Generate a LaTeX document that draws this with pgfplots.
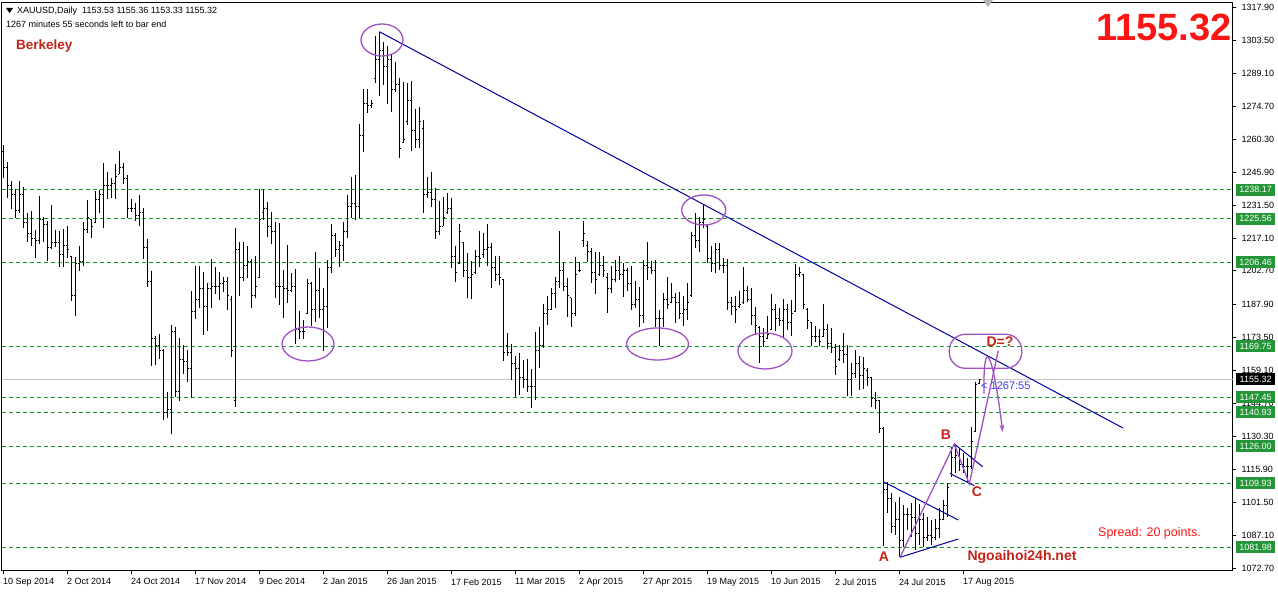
\documentclass[border=0pt]{standalone}
\usepackage{pgfplots}
\pgfplotsset{compat=1.18}
\usepackage{pgfplotstable}
\usepackage{fontspec}
\setmainfont{Liberation Sans}
\usetikzlibrary{arrows.meta}

\definecolor{lvl}{RGB}{20,150,40}
\definecolor{tagbg}{RGB}{36,150,56}
\definecolor{trend}{RGB}{0,0,160}
\definecolor{anno}{RGB}{160,80,195}
\definecolor{lbl}{RGB}{195,35,25}
\definecolor{bigred}{RGB}{255,20,20}
\definecolor{cdown}{RGB}{60,60,230}

% open / close ticks of an OHLC bar
\pgfdeclareplotmark{otick}{\pgfpathmoveto{\pgfqpoint{-1.5pt}{0pt}}\pgfpathlineto{\pgfqpoint{0pt}{0pt}}\pgfusepathqstroke}
\pgfdeclareplotmark{ctick}{\pgfpathmoveto{\pgfqpoint{0pt}{0pt}}\pgfpathlineto{\pgfqpoint{1.5pt}{0pt}}\pgfusepathqstroke}

% daily bars: index, high, low, open, close
\pgfplotstableread{
i h l o c
0 1257.7 1243.5 1255 1248
1 1250.2 1234.7 1248 1240
2 1242.0 1229.8 1240 1236
3 1238.4 1225.7 1236 1229
4 1242.0 1227.9 1229 1236
5 1239.2 1221.3 1236 1224
6 1228.2 1215.5 1224 1219
7 1228.9 1213.7 1219 1217
8 1220.6 1208.2 1217 1216
9 1235.5 1214.3 1216 1225
10 1226.1 1215.5 1225 1223
11 1224.5 1206.8 1223 1213
12 1231.5 1212.1 1213 1215
13 1220.6 1213.3 1215 1215
14 1220.2 1204.6 1215 1210
15 1220.9 1204.6 1210 1214
16 1222.3 1208.5 1214 1212
17 1209.2 1189.7 1209 1192
18 1208.9 1183.1 1192 1206
19 1213.6 1202.8 1206 1207
20 1224.2 1204.9 1207 1221
21 1233.7 1219.1 1221 1226
22 1225.3 1217.2 1225 1222
23 1237.6 1223.8 1224 1234
24 1238.1 1228.2 1234 1236
25 1250.0 1221.6 1236 1240
26 1245.7 1234.1 1240 1240
27 1243.5 1234.4 1240 1241
28 1249.3 1234.3 1241 1244
29 1255.1 1244.9 1245 1248
30 1250.0 1240.5 1248 1243
31 1244.6 1226.0 1243 1230
32 1234.1 1228.3 1230 1230
33 1232.5 1224.7 1230 1227
34 1235.9 1222.3 1227 1228
35 1230.1 1208.1 1228 1213
36 1216.7 1195.8 1213 1198
37 1202.8 1160.9 1198 1173
38 1174.3 1161.6 1173 1170
39 1175.1 1164.1 1170 1168
40 1168.6 1137.5 1168 1141
41 1149.6 1138.3 1141 1142
42 1179.1 1131.4 1142 1176
43 1178.3 1147.4 1176 1150
44 1173.2 1146.0 1150 1164
45 1170.3 1157.6 1164 1163
46 1168.1 1153.9 1163 1160
47 1193.9 1147.0 1160 1185
48 1204.9 1181.5 1185 1190
49 1204.9 1186.3 1190 1195
50 1202.4 1174.7 1195 1187
51 1197.6 1176.6 1187 1195
52 1207.9 1186.3 1195 1196
53 1204.4 1192.6 1196 1196
54 1202.4 1190.0 1196 1197
55 1199.8 1193.6 1197 1198
56 1199.8 1185.6 1198 1192
57 1191.9 1165.2 1190 1168
58 1221.3 1143.1 1146 1212
59 1215.2 1191.9 1212 1200
60 1215.2 1198.4 1200 1205
61 1213.6 1199.5 1205 1207
62 1207.8 1186.4 1207 1192
63 1209.2 1191.0 1192 1196
64 1238.5 1199.5 1200 1225
65 1238.5 1225.0 1228 1230
66 1232.7 1217.7 1230 1222
67 1228.3 1214.3 1222 1220
68 1224.2 1190.7 1220 1196
69 1223.5 1187.8 1196 1196
70 1203.1 1182.3 1196 1195
71 1214.0 1188.8 1195 1194
72 1201.7 1193.6 1194 1196
73 1203.4 1170.6 1196 1177
74 1185.2 1172.8 1177 1176
75 1181.3 1173.0 1176 1176
76 1199.0 1183.7 1184 1197
77 1198.0 1178.6 1197 1186
78 1210.8 1180.5 1186 1194
79 1203.8 1182.0 1194 1186
80 1195.1 1167.7 1186 1187
81 1207.5 1177.9 1187 1204
82 1223.1 1201.7 1204 1218
83 1219.1 1208.9 1218 1212
84 1215.8 1204.6 1212 1214
85 1224.2 1206.8 1214 1220
86 1235.9 1216.9 1220 1231
87 1243.9 1225.7 1231 1232
88 1244.6 1225.0 1232 1231
89 1266.9 1225.7 1231 1262
90 1282.1 1254.8 1262 1276
91 1282.1 1271.6 1276 1275
92 1277.4 1273.8 1275 1276
93 1305.4 1284.7 1287 1295
94 1307.3 1279.3 1295 1299
95 1302.9 1284.0 1299 1292
96 1301.0 1275.7 1292 1295
97 1297.4 1272.3 1295 1282
98 1294.2 1281.1 1282 1284
99 1286.9 1251.9 1284 1256
100 1285.4 1258.5 1259 1260
101 1284.7 1266.5 1268 1277
102 1285.7 1255.3 1277 1264
103 1273.3 1256.6 1264 1260
104 1274.5 1256.3 1260 1268
105 1268.7 1228.2 1265 1236
106 1243.9 1234.4 1236 1237
107 1246.1 1230.8 1237 1234
108 1238.8 1216.5 1234 1220
109 1233.4 1218.4 1220 1222
110 1235.2 1222.1 1222 1226
111 1236.9 1227.4 1228 1230
112 1234.7 1203.8 1230 1209
113 1213.6 1197.7 1209 1202
114 1223.2 1205.6 1206 1220
115 1215.5 1199.8 1215 1203
116 1210.4 1190.7 1203 1200
117 1206.8 1190.3 1200 1201
118 1211.9 1201.2 1202 1209
119 1220.2 1204.3 1209 1208
120 1219.4 1208.2 1210 1212
121 1223.2 1204.9 1212 1213
122 1215.0 1195.3 1213 1204
123 1209.2 1198.3 1204 1201
124 1209.2 1196.5 1201 1200
125 1199.0 1163.3 1199 1167
126 1175.4 1165.5 1170 1167
127 1170.6 1155.0 1167 1162
128 1165.5 1147.7 1162 1160
129 1166.9 1148.4 1160 1156
130 1163.7 1151.3 1156 1155
131 1164.2 1149.9 1155 1152
132 1159.8 1142.6 1152 1152
133 1176.1 1146.2 1152 1168
134 1178.3 1160.1 1168 1170
135 1188.2 1168.8 1170 1184
136 1191.7 1179.0 1184 1186
137 1195.3 1185.6 1186 1193
138 1199.9 1186.3 1193 1198
139 1220.1 1195.3 1198 1203
140 1206.7 1194.0 1203 1196
141 1199.4 1182.4 1196 1192
142 1191.0 1178.3 1191 1184
143 1208.9 1183.0 1184 1201
144 1206.7 1202.3 1203 1203
145 1224.5 1213.3 1216 1219
146 1215.7 1206.7 1214 1211
147 1212.5 1197.2 1211 1202
148 1211.1 1192.4 1202 1199
149 1211.1 1200.4 1201 1205
150 1209.2 1200.1 1205 1203
151 1201.6 1184.1 1200 1195
152 1204.8 1192.9 1195 1199
153 1207.4 1198.0 1199 1203
154 1209.3 1198.7 1203 1201
155 1206.0 1191.4 1201 1203
156 1203.8 1193.9 1203 1197
157 1204.8 1185.6 1197 1188
158 1198.3 1186.3 1188 1190
159 1195.8 1178.3 1190 1183
160 1207.4 1179.7 1183 1205
161 1215.4 1198.7 1205 1204
162 1207.0 1201.2 1204 1203
163 1207.4 1178.3 1203 1182
164 1185.6 1169.8 1182 1182
165 1192.9 1178.3 1182 1190
166 1199.9 1185.9 1190 1188
167 1197.5 1188.5 1189 1191
168 1192.9 1179.7 1191 1189
169 1193.6 1181.5 1189 1184
170 1191.7 1178.6 1184 1186
171 1197.3 1181.2 1186 1189
172 1219.8 1191.4 1192 1218
173 1227.8 1212.5 1218 1216
174 1226.4 1211.1 1216 1224
175 1231.5 1221.6 1224 1225
176 1223.0 1206.3 1222 1208
177 1213.6 1202.3 1208 1206
178 1214.7 1201.9 1206 1212
179 1214.7 1203.1 1212 1205
180 1208.2 1201.9 1205 1205
181 1207.7 1185.6 1205 1189
182 1191.1 1183.4 1189 1187
183 1191.9 1180.1 1187 1186
184 1194.1 1186.4 1187 1188
185 1204.3 1188.3 1189 1194
186 1196.1 1189.3 1194 1190
187 1195.1 1179.1 1190 1183
188 1186.8 1175.2 1183 1179
189 1178.7 1162.6 1178 1174
190 1177.6 1169.3 1174 1172
191 1183.0 1172.8 1173 1175
192 1192.6 1176.9 1177 1186
193 1188.3 1176.2 1186 1182
194 1186.4 1178.4 1182 1181
195 1190.5 1173.6 1181 1186
196 1188.3 1176.9 1186 1180
197 1190.0 1174.3 1180 1184
198 1205.8 1184.5 1185 1201
199 1204.3 1199.9 1201 1202
200 1201.4 1185.9 1201 1188
201 1186.4 1177.2 1186 1181
202 1180.3 1169.9 1180 1174
203 1178.4 1171.4 1174 1174
204 1177.2 1169.9 1174 1172
205 1188.1 1173.6 1174 1177
206 1179.5 1168.5 1177 1171
207 1177.9 1166.7 1171 1169
208 1170.8 1157.2 1169 1161
209 1170.3 1163.1 1164 1168
210 1175.5 1162.6 1168 1166
211 1170.1 1147.8 1166 1155
212 1162.3 1147.8 1155 1158
213 1168.2 1155.8 1158 1162
214 1165.3 1150.7 1162 1157
215 1164.9 1150.9 1157 1160
216 1160.1 1152.4 1159 1156
217 1156.5 1143.1 1156 1147
218 1149.9 1142.2 1147 1146
219 1146.3 1131.7 1146 1134
220 1134.6 1082.5 1134 1107
221 1110.6 1096.7 1107 1103
222 1105.5 1088.0 1103 1091
223 1101.8 1087.3 1091 1094
224 1104.0 1077.8 1094 1085
225 1100.4 1082.2 1085 1096
226 1098.9 1089.5 1096 1096
227 1101.1 1086.5 1096 1095
228 1103.3 1080.7 1095 1088
229 1101.0 1083.0 1088 1094
230 1096.7 1082.2 1094 1086
231 1095.3 1084.4 1086 1087
232 1093.8 1082.9 1087 1086
233 1094.1 1085.1 1086 1090
234 1098.9 1085.8 1090 1094
235 1102.6 1093.8 1094 1100
236 1109.9 1095.3 1100 1108
237 1125.9 1112.8 1114 1121
238 1127.0 1114.2 1121 1122
239 1125.2 1115.0 1122 1118
240 1123.0 1114.2 1118 1117
241 1120.8 1109.9 1117 1117
242 1134.6 1116.0 1117 1128
243 1154.3 1132.4 1132.4 1153
244 1155.36 1153.33 1153.53 1155.32
}\bars

\newcommand\sm{\fontsize{9}{10}\selectfont}

\begin{document}
\begin{tikzpicture}
\begin{axis}[
  at={(2pt,22pt)}, anchor=south west,
  scale only axis, width=1231pt, height=568pt,
  xmin=-0.375, xmax=307.4, ymin=1071.5, ymax=1319.8,
  clip=false,
  axis line style={black, line width=1pt},
  tick style={black, line width=0.8pt},
  tick align=outside, major tick length=3.5pt,
  xtick pos=bottom, ytick pos=right, yticklabel pos=right,
  xtick={0,16,...,240},
  xticklabels={10 Sep 2014, 2 Oct 2014, 24 Oct 2014, 17 Nov 2014, 9 Dec 2014, 2 Jan 2015, 26 Jan 2015, 17 Feb 2015, 11 Mar 2015, 2 Apr 2015, 27 Apr 2015, 19 May 2015, 10 Jun 2015, 2 Jul 2015, 24 Jul 2015, 17 Aug 2015},
  ytick={1072.7,1087.1,1101.5,1115.9,1130.3,1144.7,1159.1,1173.5,1187.9,1202.7,1217.1,1231.5,1245.9,1260.3,1274.7,1289.1,1303.5,1317.9},
  yticklabels={1072.70,1087.10,1101.50,1115.90,1130.30,1144.70,1159.10,1173.50,1187.90,1202.70,1217.10,1231.50,1245.90,1260.30,1274.70,1289.10,1303.50,1317.90},
  ticklabel style={font=\sm},
  xticklabel style={anchor=north west, inner sep=0pt, xshift=-0.5pt, yshift=-4pt},
  yticklabel style={anchor=west, inner sep=0pt, xshift=5pt},
]
% horizontal levels
\pgfplotsinvokeforeach{1238.17,1225.56,1206.46,1169.75,1147.45,1140.93,1126.00,1109.93,1081.98}{
  \addplot[lvl, line width=1pt, dash pattern=on 4pt off 3pt, forget plot] coordinates {(-0.375,#1) (307.4,#1)};
}
\addplot[black!22, line width=1pt, forget plot] coordinates {(-0.375,1155.32) (307.4,1155.32)};

% OHLC bars
\addplot[draw=none, mark=none, forget plot,
  error bars/.cd, y dir=minus, y explicit, error mark=none,
  error bar style={draw=black, line width=1pt, solid}]
  table[x=i, y=h, y error minus expr=\thisrow{h}-\thisrow{l}] {\bars};
\addplot[only marks, mark=otick, mark options={black, line width=1pt}, forget plot] table[x=i, y=o] {\bars};
\addplot[only marks, mark=ctick, mark options={black, line width=1pt}, forget plot] table[x=i, y=c] {\bars};

\coordinate (t1) at (axis cs:308.125,1238.17);
\coordinate (t2) at (axis cs:308.125,1225.56);
\coordinate (t3) at (axis cs:308.125,1206.46);
\coordinate (t4) at (axis cs:308.125,1169.75);
\coordinate (t5) at (axis cs:308.125,1147.45);
\coordinate (t6) at (axis cs:308.125,1140.93);
\coordinate (t7) at (axis cs:308.125,1126.00);
\coordinate (t8) at (axis cs:308.125,1109.93);
\coordinate (t9) at (axis cs:308.125,1081.98);
\coordinate (tb) at (axis cs:308.125,1155.32);
\end{axis}

% price tags on the right scale
\tikzset{tagn/.style={fill=tagbg, text=white, font=\sm, anchor=west, inner xsep=1.5pt, inner ysep=0pt, minimum height=12pt, minimum width=39pt}}
\node[tagn] at (t1) {1238.17};
\node[tagn] at (t2) {1225.56};
\node[tagn] at (t3) {1206.46};
\node[tagn] at (t4) {1169.75};
\node[tagn] at (t5) {1147.45};
\node[tagn] at (t6) {1140.93};
\node[tagn] at (t7) {1126.00};
\node[tagn] at (t8) {1109.93};
\node[tagn] at (t9) {1081.98};
\node[tagn, fill=black] at (tb) {1155.32};

% trend lines
\begin{scope}[trend, line width=1pt]
\draw (379.3pt,561.3pt) -- (1123pt,165pt);
\draw (883.3pt,111.3pt) -- (958.3pt,73pt);
\draw (900pt,35.7pt) -- (958.3pt,54pt);
\draw (954.3pt,149pt) -- (982.7pt,126.3pt);
\draw (951.7pt,118.7pt) -- (974.3pt,107.3pt);
\end{scope}

% purple marks
\begin{scope}[anno, line width=1.3pt]
\draw (382pt,553pt) ellipse [x radius=21pt, y radius=16pt];
\draw (308pt,249pt) ellipse [x radius=26pt, y radius=17pt];
\draw (657.5pt,249pt) ellipse [x radius=31pt, y radius=16pt];
\draw (703.7pt,383pt) ellipse [x radius=22pt, y radius=15pt];
\draw (765pt,242pt) ellipse [x radius=27pt, y radius=18pt];
\draw[rounded corners=16pt] (949.3pt,224.7pt) rectangle (1021.7pt,258.7pt);
\draw (900pt,35.7pt) -- (954.3pt,149pt) -- (969.3pt,109pt) -- (998.3pt,242.3pt);
\draw[-{Stealth[length=7pt,width=5pt]}] (984pt,199pt) .. controls (983pt,252pt) and (991pt,254pt) .. (1002.7pt,161.3pt);
\end{scope}

% labels
\tikzset{wl/.style={text=lbl, inner sep=0pt, font=\fontsize{14}{16}\selectfont\bfseries}}
\node[wl] at (884pt,36pt) {A};
\node[wl] at (946pt,158pt) {B};
\node[wl] at (977pt,101pt) {C};
\node[wl] at (1000pt,251pt) {D=?};
\node[wl] at (1022pt,36pt) {Ngoaihoi24h.net};
\node[text=bigred, inner sep=0pt, font=\fontsize{12.5}{14}\selectfont] at (1149.5pt,60pt) {Spread: 20 points.};
\node[text=cdown, anchor=west, inner sep=0pt, font=\fontsize{11}{12}\selectfont] at (981pt,207pt) {< 1267:55};
\node[text=bigred, anchor=east, inner sep=0pt, font=\fontsize{38}{40}\selectfont\bfseries] at (1232pt,566pt) {1155.32};
\node[text=lbl, anchor=west, inner sep=0pt, font=\fontsize{13.5}{15}\selectfont\bfseries] at (16pt,547pt) {Berkeley};

% header
\fill (6pt,585pt) -- (13pt,585pt) -- (9.5pt,580pt) -- cycle;
\node[anchor=west, inner sep=0pt, font=\sm] at (17pt,582pt) {XAUUSD,Daily\ \ 1153.53 1155.36 1153.33 1155.32};
\node[anchor=west, inner sep=0pt, font=\sm] at (6pt,569pt) {1267 minutes 55 seconds left to bar end};
\fill[black!30] (983pt,593pt) -- (993pt,593pt) -- (988pt,586pt) -- cycle;

\pgfresetboundingbox
\path[use as bounding box] (0,0) rectangle (1278pt,593pt);
\end{tikzpicture}
\end{document}
